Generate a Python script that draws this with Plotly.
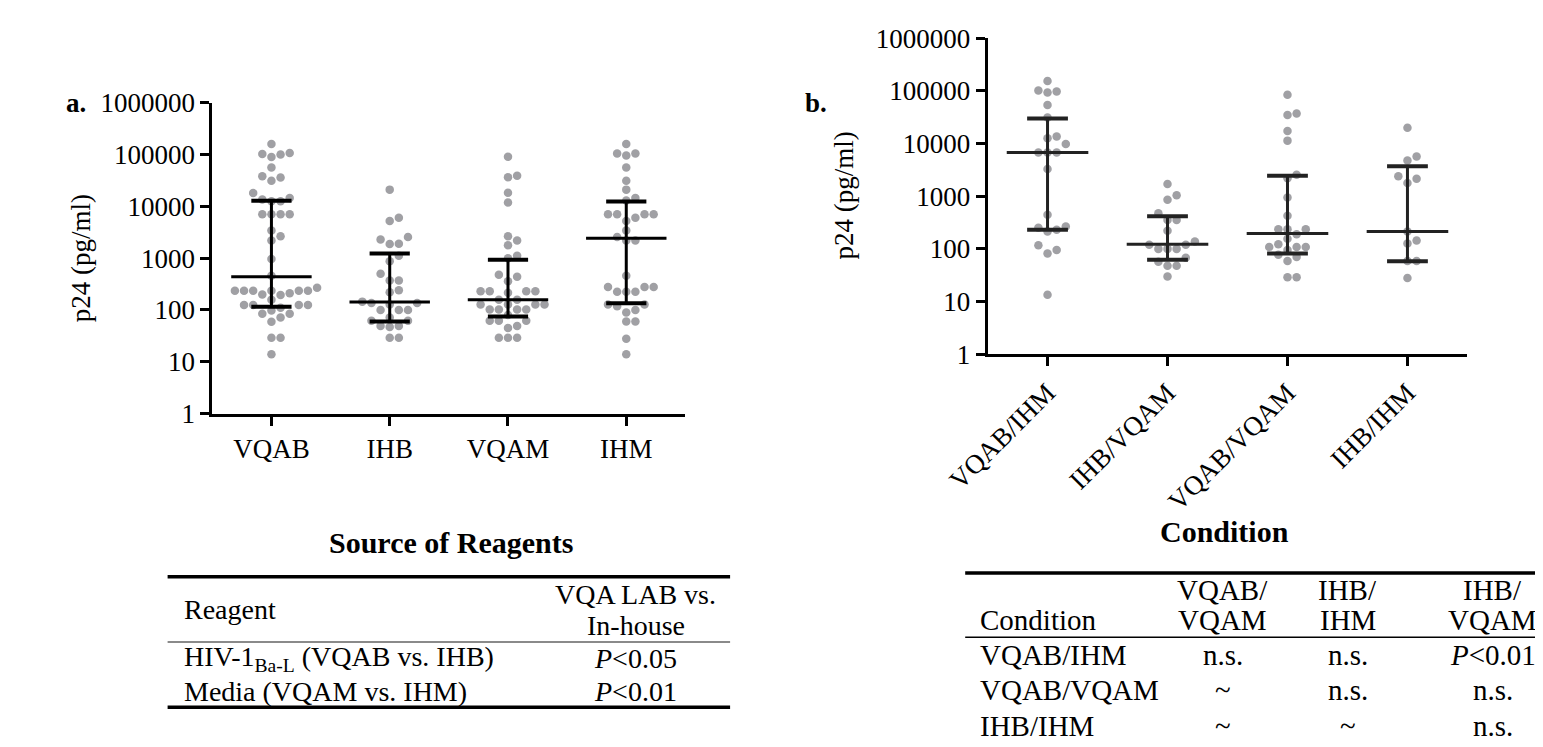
import numpy as np
import plotly.graph_objects as go

W, H = 1543, 747
FONT = "Liberation Serif"

# ---------------- data: panel a ----------------
cats_a = ["VQAB", "IHB", "VQAM", "IHM"]
vqab = [160000, 107000, 102000, 100000, 89000, 56000, 38000, 36000, 31000, 18000,
        14500, 13500, 12500, 12500, 7000, 7000, 7000, 7000, 3400, 2650, 2200, 960, 460,
        270, 235, 235, 235, 235, 235, 235, 210, 200, 195, 158, 125, 125, 125, 125,
        110, 98, 85, 85, 72, 59, 29, 29, 14]
ihb = [21000, 6000, 5200, 2550, 2300, 1900, 1870, 1110, 870, 500, 370, 370, 240, 220,
       145, 137, 137, 127, 100, 100, 100, 72, 62, 62, 49, 49, 47, 29, 29]
vqam = [90000, 39000, 36500, 18300, 11800, 2650, 2200, 1780, 1110, 1000, 480, 440, 357,
        231, 231, 231, 231, 215, 158, 158, 127, 127, 127, 127, 102, 102, 102, 102, 80,
        62, 62, 62, 49, 45, 29, 29, 29]
ihm = [160000, 104000, 104000, 96000, 56000, 31000, 21000, 14500, 13000, 7000, 7000,
       7000, 7000, 6000, 5200, 3400, 2550, 2200, 2200, 460, 277, 277, 277, 224, 224, 224,
       127, 127, 118, 100, 89, 60, 60, 28, 14]
groups_a = [vqab, ihb, vqam, ihm]
med_a = [440, 142, 158, 2420]
q1_a = [115, 60, 75, 135]
q3_a = [12800, 1230, 930, 12400]

# ---------------- data: panel b ----------------
cats_b = ["VQAB/IHM", "IHB/VQAM", "VQAB/VQAM", "IHB/IHM"]
vqab_ihm = [154000, 102000, 98000, 94000, 54000, 31500, 13600, 12600, 9800, 6800, 6800,
            6800, 3300, 445, 265, 252, 230, 214, 117, 95, 82, 13.5]
ihb_vqam = [1700, 1050, 855, 475, 355, 355, 220, 138, 120, 120, 100, 100, 100, 68, 57,
            48, 48, 30]
vqab_vqam = [85000, 37500, 35000, 17300, 11400, 2550, 2200, 950, 425, 235, 235, 235, 190,
             155, 122, 109, 109, 109, 95, 77, 70, 59, 29, 29]
ihb_ihm = [20000, 5700, 4800, 2400, 2150, 1780, 214, 145, 126, 59, 59, 28]
groups_b = [vqab_ihm, ihb_vqam, vqab_vqam, ihb_ihm]
med_b = [6800, 122, 195, 214]
q1_b = [230, 62, 82, 58]
q3_b = [30000, 415, 2450, 3700]

ytick_vals = [1, 10, 100, 1000, 10000, 100000, 1000000]
ytick_text = ["1", "10", "100", "1000", "10000", "100000", "1000000"]

# ---------------- tables ----------------
tabA_title = "Source of Reagents"
tabA_head = ["Reagent", "VQA LAB vs.", "In-house"]
tabA_rows = ["HIV-1<sub>Ba-L</sub> (VQAB vs. IHB)", "Media (VQAM vs. IHM)"]
tabA_vals = ["<i>P</i>&lt;0.05", "<i>P</i>&lt;0.01"]

tabB_title = "Condition"
tabB_head_top = ["VQAB/", "IHB/", "IHB/"]
tabB_head_bot = ["VQAM", "IHM", "VQAM"]
tabB_rows = ["VQAB/IHM", "VQAB/VQAM", "IHB/IHM"]
tabB_vals = [["n.s.", "n.s.", "<i>P</i>&lt;0.01"],
             ["~", "n.s.", "n.s."],
             ["~", "~", "n.s."]]

# ---------------- layout geometry (pixels) ----------------
A_X0, A_X1, A_Y0, A_Y1 = 165, 652, 83, 407
B_X0, B_X1, B_Y0, B_Y1 = 963, 1457, 16, 345


def px(x):
    return x / W


def py(y):
    return 1 - y / H


def swarm(values, ppx, ppy, d=9.4):
    vals = np.asarray(values, dtype=float)
    ys = np.log10(vals) * ppy
    order = np.argsort(vals, kind="stable")
    placed = []
    off = np.zeros(len(vals))
    for i in order:
        y = ys[i]
        found = None
        for k in range(0, 60):
            for s in ([0] if k == 0 else [1, -1]):
                x = s * k * d
                if all((x - a) ** 2 + (y - b) ** 2 >= (0.97 * d) ** 2 for a, b in placed):
                    found = x
                    break
            if found is not None:
                break
        placed.append((found, y))
        off[i] = found / ppx
    return off


fig = go.Figure()

GRAY = "rgb(160,160,164)"


def add_panel(groups, med, q1, q3, xa, ya, ppx, ppy, line_col):
    xs, ys = [], []
    for i, g in enumerate(groups):
        off = swarm(g, ppx, ppy)
        xs += list(i + off)
        ys += list(g)
    fig.add_trace(go.Scatter(x=xs, y=ys, mode="markers", xaxis=xa, yaxis=ya,
                             marker=dict(color=GRAY, size=8.5, line=dict(width=0)),
                             showlegend=False, hoverinfo="skip"))
    mw, cw = 0.34, 0.17
    vx, vy, cx, cy, mx, my = [], [], [], [], [], []
    for i in range(len(groups)):
        vx += [i, i, None]
        vy += [q1[i], q3[i], None]
        cx += [i - cw, i + cw, None, i - cw, i + cw, None]
        cy += [q1[i], q1[i], None, q3[i], q3[i], None]
        mx += [i - mw, i + mw, None]
        my += [med[i], med[i], None]
    for X, Y, w in [(vx, vy, 3), (cx, cy, 4), (mx, my, 3)]:
        fig.add_trace(go.Scatter(x=X, y=Y, mode="lines", xaxis=xa, yaxis=ya,
                                 line=dict(color=line_col, width=w),
                                 showlegend=False, hoverinfo="skip"))


add_panel(groups_a, med_a, q1_a, q3_a, "x", "y",
          (A_X1 - A_X0) / 4, (A_Y1 - A_Y0) / 6, "black")
add_panel(groups_b, med_b, q1_b, q3_b, "x2", "y2",
          (B_X1 - B_X0) / 4, (B_Y1 - B_Y0) / 6, "#222222")

axis_common = dict(showgrid=False, zeroline=False, showline=True, linecolor="black",
                   linewidth=3, ticks="outside", ticklen=9, tickwidth=3,
                   tickcolor="black", tickfont=dict(family=FONT, size=27, color="black"))

fig.update_layout(
    width=W, height=H, margin=dict(l=0, r=0, t=0, b=0),
    paper_bgcolor="white", plot_bgcolor="white", showlegend=False,
    xaxis=dict(domain=[px(A_X0), px(A_X1)], range=[-0.5, 3.5], tickvals=[0, 1, 2, 3],
               ticktext=cats_a, anchor="y", **axis_common),
    yaxis=dict(domain=[py(A_Y1), py(A_Y0)], type="log", range=[0, 6],
               tickvals=ytick_vals, ticktext=ytick_text, anchor="x", **axis_common),
    xaxis2=dict(domain=[px(B_X0), px(B_X1)], range=[-0.5, 3.5], tickvals=[0, 1, 2, 3],
                ticktext=cats_b, tickangle=-45, anchor="y2", **axis_common),
    yaxis2=dict(domain=[py(B_Y1), py(B_Y0)], type="log", range=[0, 6],
                tickvals=ytick_vals, ticktext=ytick_text, anchor="x2", **axis_common),
)

ann = []
shapes = []


def text(x, y, s, size=29, anchor="center", angle=0):
    ann.append(dict(x=px(x), y=py(y), xref="paper", yref="paper", text=s,
                    showarrow=False, xanchor=anchor, yanchor="middle", textangle=angle,
                    font=dict(family=FONT, size=size, color="black")))


def hline(x0, x1, y, w, col="black"):
    shapes.append(dict(type="line", xref="paper", yref="paper", x0=px(x0), x1=px(x1),
                       y0=py(y), y1=py(y), line=dict(color=col, width=w)))


# panel labels and y titles
text(12, 83, "<b>a.</b>", size=27, anchor="left")
text(773, 83, "<b>b.</b>", size=27, anchor="left")
text(30, 245, "p24 (pg/ml)", size=27, angle=-90)
text(815, 180, "p24 (pg/ml)", size=27, angle=-90)

# table a
text(411, 541, "<b>%s</b>" % tabA_title, size=30)
hline(119, 698, 577, 3.5)
text(134, 611, tabA_head[0], size=28, anchor="left")
text(601, 595, tabA_head[1], size=28)
text(601, 628, tabA_head[2], size=28)
hline(119, 698, 645, 2, "#8a8a8a")
for i, (r, v) in enumerate(zip(tabA_rows, tabA_vals)):
    yy = 662 + 34 * i
    text(134, yy, r, size=28, anchor="left")
    text(601, yy, v, size=28)
hline(119, 698, 713, 3.5)

# table b
text(1207, 530, "<b>%s</b>" % tabB_title, size=30)
hline(940, 1543, 573, 3.5)
text(953, 622, "Condition", anchor="left")
col_x = [1205, 1334, 1483]
for cx_, t1, t2 in zip(col_x, tabB_head_top, tabB_head_bot):
    text(cx_, 591, t1)
    text(cx_, 622, t2)
hline(940, 1543, 640, 1.5)
for i, (r, vals) in enumerate(zip(tabB_rows, tabB_vals)):
    yy = 658 + 37 * i
    text(953, yy, r, anchor="left")
    for cx_, v in zip(col_x, vals):
        text(cx_, yy, v)

fig.update_layout(annotations=ann, shapes=shapes)
fig.write_html("out.html")
